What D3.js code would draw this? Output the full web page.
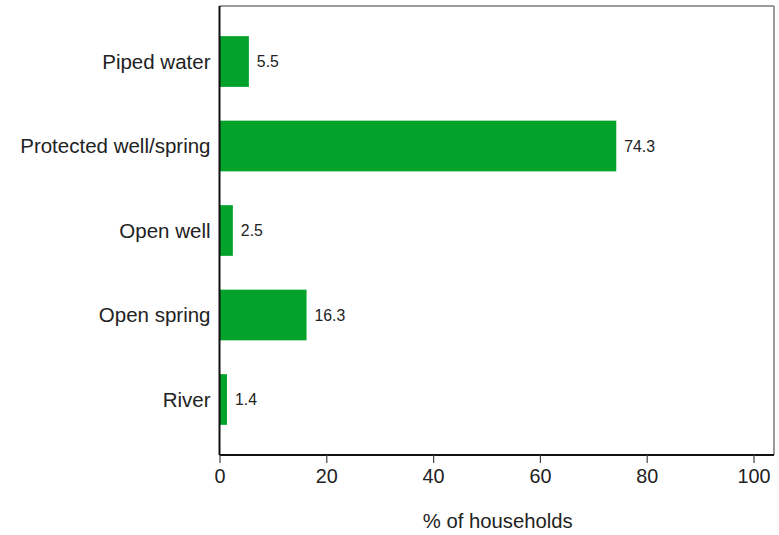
<!DOCTYPE html>
<html>
<head>
<meta charset="utf-8">
<script src="https://cdn.jsdelivr.net/npm/d3@7"></script>
<style>
  body { margin: 0; background: #fff; }
  svg { display: block; font-family: "Liberation Sans", Arial, sans-serif; }
</style>
</head>
<body>
<svg id="chart" width="779" height="535"></svg>
<script>
const categories = ["Piped water", "Protected well/spring", "Open well", "Open spring", "River"];
const values = [5.5, 74.3, 2.5, 16.3, 1.4];
const xTicks = [0, 20, 40, 60, 80, 100];
const xTitle = "% of households";

(function () {
const svg = d3.select("#chart");
const pLeft = 219.5, pRight = 753.5, pTop = 6, pBottom = 455, boxRight = 774;

const x = d3.scaleLinear().domain([0, 100]).range([pLeft, pRight]);
const y = d3.scaleBand().domain(categories).range([pTop, pBottom])
  .paddingInner(0.4).paddingOuter(0.357);

// box top & right
svg.append("line").attr("x1", pLeft).attr("x2", boxRight).attr("y1", pTop).attr("y2", pTop)
  .attr("stroke", "#7a7a7a").attr("stroke-width", 1.5);
svg.append("line").attr("x1", boxRight).attr("x2", boxRight).attr("y1", pTop).attr("y2", pBottom)
  .attr("stroke", "#7a7a7a").attr("stroke-width", 1.5);

// bars
svg.selectAll("rect.bar").data(categories).enter().append("rect")
  .attr("class", "bar")
  .attr("x", x(0))
  .attr("y", d => y(d))
  .attr("width", (d, i) => x(values[i]) - x(0))
  .attr("height", y.bandwidth())
  .attr("fill", "#02a22b");

// value labels
svg.selectAll("text.val").data(categories).enter().append("text")
  .attr("class", "val")
  .attr("x", (d, i) => x(values[i]) + 8)
  .attr("y", d => y(d) + y.bandwidth() / 2)
  .attr("dy", "0.35em")
  .attr("font-size", 15.8)
  .attr("fill", "#222")
  .text((d, i) => values[i].toFixed(1));

// category labels
svg.selectAll("text.cat").data(categories).enter().append("text")
  .attr("class", "cat")
  .attr("x", pLeft - 9)
  .attr("y", d => y(d) + y.bandwidth() / 2)
  .attr("dy", "0.35em")
  .attr("text-anchor", "end")
  .attr("font-size", 20.5)
  .attr("fill", "#222")
  .text(d => d);

// x axis
const xAxis = d3.axisBottom(x).tickValues(xTicks).tickSize(8).tickPadding(6).tickSizeOuter(0);
const gx = svg.append("g").attr("transform", `translate(0,${pBottom})`).call(xAxis);
gx.select(".domain").attr("stroke", "#111").attr("stroke-width", 2)
  .attr("d", `M${pLeft},0H${boxRight}`);
gx.selectAll(".tick line").attr("stroke", "#444").attr("stroke-width", 1.2);
gx.selectAll(".tick text").attr("font-size", 19.8).attr("fill", "#222")
  .attr("font-family", "Liberation Sans, Arial, sans-serif");

// y axis line
svg.append("line").attr("x1", pLeft).attr("x2", pLeft).attr("y1", pTop).attr("y2", pBottom)
  .attr("stroke", "#111").attr("stroke-width", 2);

// axis title
svg.append("text")
  .attr("x", (pLeft + boxRight) / 2 + 1)
  .attr("y", 528)
  .attr("text-anchor", "middle")
  .attr("font-size", 20.3)
  .attr("fill", "#222")
  .text(xTitle);
})();
</script>
</body>
</html>
